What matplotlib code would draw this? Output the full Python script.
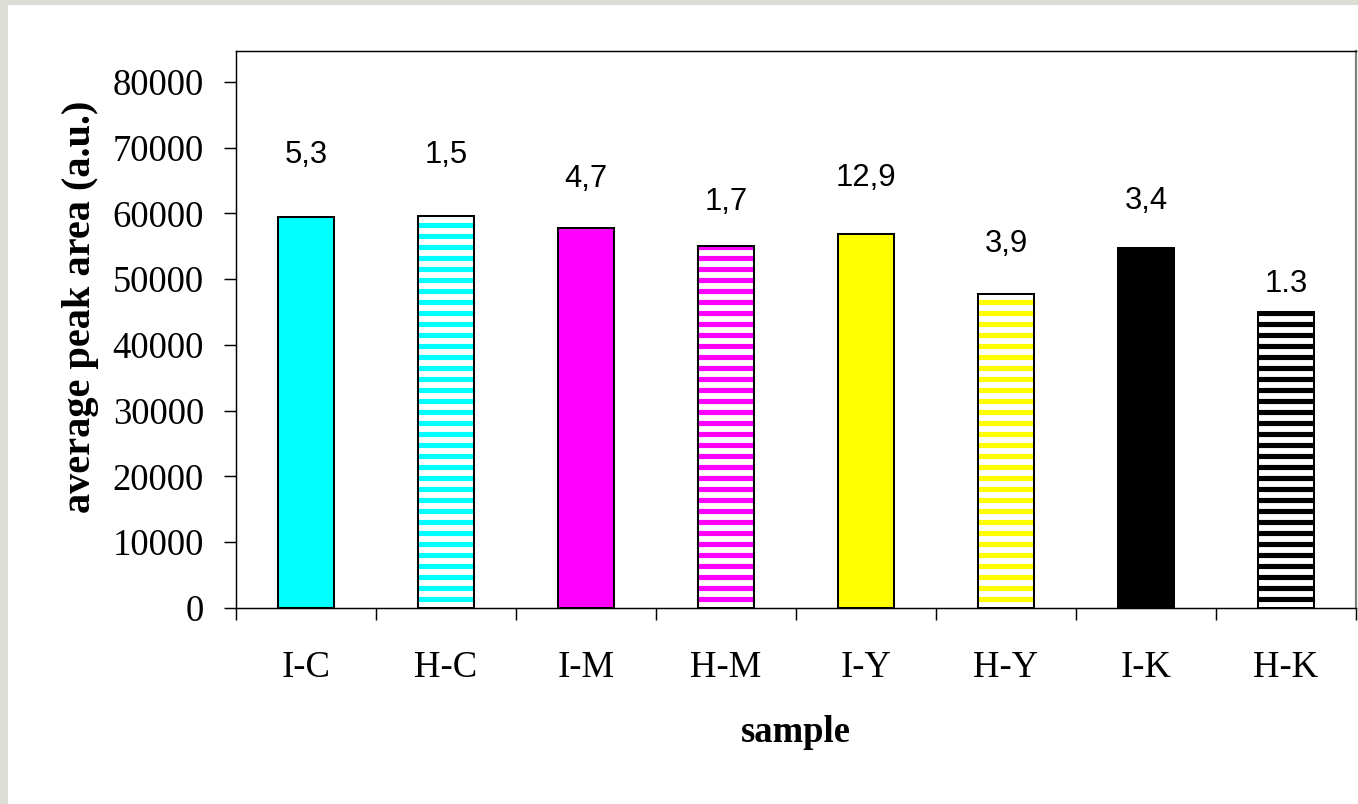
import numpy as np
import matplotlib.pyplot as plt
from matplotlib.patches import Rectangle
from matplotlib.ticker import FixedLocator, NullFormatter

samples = ['I-C', 'H-C', 'I-M', 'H-M', 'I-Y', 'H-Y', 'I-K', 'H-K']
peak_area = [59400, 59600, 57800, 55000, 56800, 47800, 54700, 45000]
rsd_labels = ['5,3', '1,5', '4,7', '1,7', '12,9', '3,9', '3,4', '1.3']
rsd_label_y = [67700, 67700, 64000, 60500, 64200, 54100, 60700, 48100]
colors = ['#00ffff', '#00ffff', '#ff00ff', '#ff00ff',
          '#ffff00', '#ffff00', '#000000', '#000000']
striped = [False, True, False, True, False, True, False, True]

plt.rcParams['hatch.linewidth'] = 2.8

fig = plt.figure(figsize=(1358 / 132, 804 / 132), dpi=132)
fig.patch.set_facecolor('#dcddd5')
# white sheet over the textured backdrop
fig.patches.append(Rectangle((8 / 1358, 0), 1, 1 - 5 / 804, transform=fig.transFigure,
                             facecolor='white', edgecolor='none', zorder=-10))

ax = fig.add_axes([236 / 1358, 1 - 608 / 804, 1120 / 1358, 557 / 804])
ax.set_facecolor('white')

x = np.arange(len(samples))
w = 0.4
for i in range(len(samples)):
    if striped[i]:
        ax.bar(x[i], peak_area[i], width=w, color='white', edgecolor=colors[i],
               hatch='--', linewidth=0, zorder=2)
        ax.bar(x[i], peak_area[i], width=w, fill=False, edgecolor='black',
               linewidth=1.1, zorder=3)
    else:
        ax.bar(x[i], peak_area[i], width=w, color=colors[i], edgecolor='black',
               linewidth=1.1, zorder=2)
    ax.text(x[i], rsd_label_y[i], rsd_labels[i], ha='center', va='baseline',
            fontsize=17, family='Liberation Sans')

ax.set_xlim(-0.5, len(samples) - 0.5)
ax.set_ylim(0, 84700)
ax.set_yticks(np.arange(0, 80001, 10000))
ax.set_xticks(x)
ax.set_xticklabels(samples)
ax.xaxis.set_minor_locator(FixedLocator(np.arange(-0.5, len(samples), 1.0)))
ax.xaxis.set_minor_formatter(NullFormatter())

ax.tick_params(axis='x', which='major', length=0, pad=23, labelsize=20)
ax.tick_params(axis='x', which='minor', length=6.5, width=0.8, direction='out')
ax.tick_params(axis='y', length=6.5, width=0.8, direction='out', pad=11, labelsize=20)
for lab in ax.get_xticklabels() + ax.get_yticklabels():
    lab.set_family('Liberation Serif')

for s in ['left', 'bottom', 'top']:
    ax.spines[s].set_linewidth(0.8)
    ax.spines[s].set_color('black')
ax.spines['right'].set_linewidth(1.2)
ax.spines['right'].set_color('#808080')

ax.set_xlabel('sample', fontsize=20, fontweight='bold', family='Liberation Serif')
ax.set_ylabel('average peak area (a.u.)', fontsize=22, fontweight='bold',
              family='Liberation Serif')
ax.xaxis.set_label_coords(0.5, -0.224)
ax.xaxis.label.set_va('center')
ax.yaxis.set_label_coords(-0.139, 0.54)
ax.yaxis.label.set_va('center')

fig.savefig('out.png', dpi=132, facecolor=fig.get_facecolor())
